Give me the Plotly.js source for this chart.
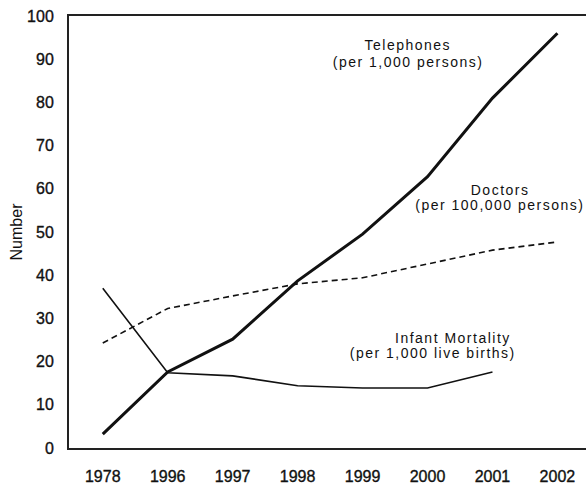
<!DOCTYPE html>
<html>
<head>
<meta charset="utf-8">
<script src="https://cdn.plot.ly/plotly-3.0.1.min.js"></script>
<style>
html,body{margin:0;padding:0;background:#fff;}
#chart{width:586px;height:486px;}
#chart .annotation-text{letter-spacing:1.5px;}
#chart .xtick text, #chart .ytick text{stroke:#111;stroke-width:0.35px;}
</style>
</head>
<body>
<div id="chart"></div>
<script>
var years = ["1978", "1996", "1997", "1998", "1999", "2000", "2001", "2002"];
var telephones = [3.2, 17.6, 25.2, 38.7, 49.5, 62.8, 81, 96];
var doctors = [24.3, 32.3, 35.2, 38, 39.4, 42.6, 45.8, 47.7];
var infantMortality = [37, 17.4, 16.7, 14.4, 13.9, 13.9, 17.6];
var labelLines = [
  "Telephones", "(per 1,000 persons)",
  "Doctors", "(per 100,000 persons)",
  "Infant Mortality", "(per 1,000 live births)"
];

var font = "Liberation Sans, Arial, Helvetica, sans-serif";

var traces = [
  {x: years, y: telephones, type: "scatter", mode: "lines",
   line: {color: "#111", width: 3}, hoverinfo: "skip"},
  {x: years, y: doctors, type: "scatter", mode: "lines",
   line: {color: "#111", width: 1.6, dash: "6px,4px"}, hoverinfo: "skip"},
  {x: years.slice(0, infantMortality.length), y: infantMortality, type: "scatter", mode: "lines",
   line: {color: "#111", width: 1.6}, hoverinfo: "skip"}
];

var annFont = {family: font, size: 14, color: "#111"};
function ann(text, x, y, xanchor) {
  return {xref: "x", yref: "y", x: x, y: y, text: text, showarrow: false,
          xanchor: xanchor, yanchor: "middle", font: annFont};
}

var layout = {
  width: 586, height: 486,
  margin: {l: 69, r: 0, t: 16, b: 38},
  paper_bgcolor: "#fff", plot_bgcolor: "#fff",
  showlegend: false,
  font: {family: font, color: "#111", size: 16},
  xaxis: {
    type: "category", range: [-0.52, 7.44],
    showline: true, linecolor: "#222", linewidth: 2, mirror: true,
    showgrid: false, zeroline: false, ticks: "",
    ticklabelstandoff: 13,
    tickfont: {family: font, size: 16, color: "#111"}
  },
  yaxis: {
    range: [0, 100], dtick: 10,
    showline: true, linecolor: "#222", linewidth: 2,
    showgrid: false, zeroline: false, ticks: "",
    ticklabelstandoff: 10,
    tickfont: {family: font, size: 16, color: "#111"},
    title: {text: "Number", font: {family: font, size: 16, color: "#111"}, standoff: 0}
  },
  annotations: [
    ann(labelLines[0], 4.70, 93.3, "center"),
    ann(labelLines[1], 4.70, 89.4, "center"),
    ann(labelLines[2], 6.12, 59.7, "center"),
    ann(labelLines[3], 6.12, 56.2, "center"),
    ann(labelLines[4], 6.13, 25.5, "right"),
    ann(labelLines[5], 6.13, 22.0, "right")
  ]
};

Plotly.newPlot("chart", traces, layout, {staticPlot: true, displayModeBar: false});
</script>
</body>
</html>
